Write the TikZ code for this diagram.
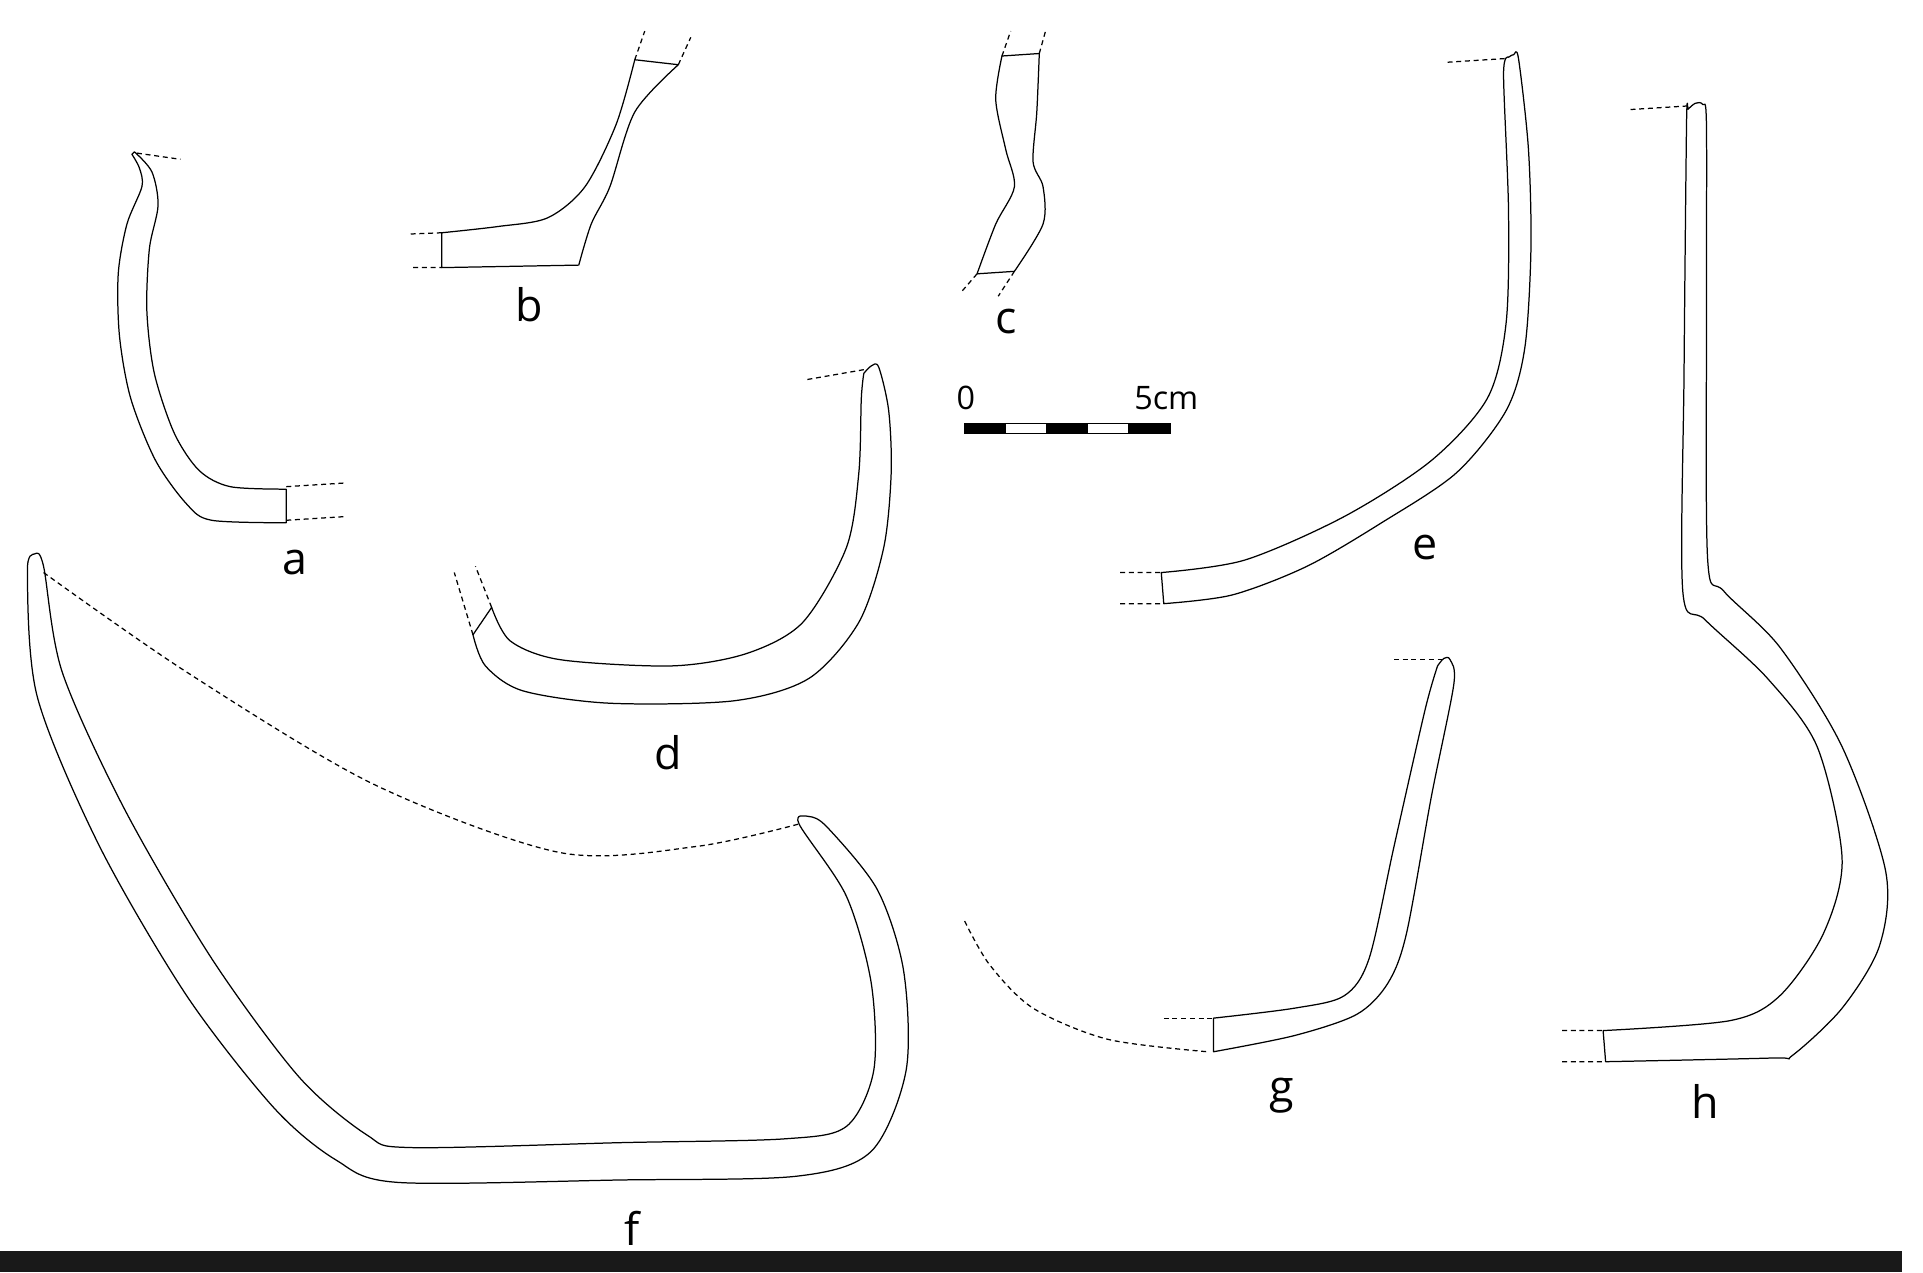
\documentclass[tikz,border=0pt]{standalone}
\usepackage{fontspec}
\setmainfont{Open Sans}
\begin{document}
\begin{tikzpicture}[x=1pt,y=-1pt,
  sherd/.style={draw=black,line width=1pt,line join=round},
  cut/.style={draw=black,line width=1pt,dashed,dash pattern=on 4pt off 3pt},
  lbl/.style={font=\fontsize{36}{40}\selectfont,inner sep=0pt}]
\useasboundingbox (0,0) rectangle (1545,1022);
\fill[white] (0,0) rectangle (1545,1022);
% a
\draw[sherd] plot[smooth] coordinates{(106,124)(112,135)(114,150)(102,180)(95,220)(96,270)(105,320)(125,370)(150,405)(170,418)(230,420)}
  -- plot[smooth] coordinates{(230,393)(185,391)(160,378)(140,348)(124,300)(118,250)(120,200)(127,165)(122,138)(108,122)} -- cycle;
\draw[cut] (230,391)--(278,388) (230,418)--(278,415) (110,123)--(145,128);
\node[lbl] (la) at (237,452) {a};
% b
\draw[sherd] (355,187)--(355,215)--(465,213) -- plot[smooth] coordinates{(465,213)(475,180)(490,150)(510,90)(545,52)}
  -- (510,48) -- plot[smooth] coordinates{(510,48)(495,100)(470,150)(440,175)(400,182)(355,187)};
\draw[cut] (330,188)--(355,187) (332,215)--(355,215) (510,48)--(518,25) (545,52)--(555,30);
\node[lbl] (lb) at (425,245) {b};
% c
\draw[sherd] plot[smooth] coordinates{(805,45)(800,80)(808,120)(815,150)(800,180)(785,220)}
  -- plot[smooth] coordinates{(815,218)(838,180)(838,150)(830,130)(833,90)(835,43)} -- cycle;
\draw[cut] (805,45)--(812,25) (835,43)--(840,25) (785,220)--(772,235) (815,218)--(802,238);
\node[lbl] (lc) at (808,258) {c};
% d
\draw[sherd] plot[smooth] coordinates{(694,300)(700,294)(706,295)(714,330)(716,380)(710,440)(690,500)(650,545)(590,563)(490,565)(420,555)(390,535)(380,510)}
  -- (395,488) -- plot[smooth] coordinates{(395,488)(410,515)(450,530)(540,535)(600,525)(645,500)(680,440)(690,380)(692,320)(694,300)};
\draw[cut] (380,510)--(365,460) (395,488)--(382,455) (694,297)--(648,305);
\node[lbl] (ld) at (537,605) {d};
% e
\draw[sherd] plot[smooth] coordinates{(1212,46)(1216,44)(1220,47)(1228,120)(1230,200)(1225,280)(1210,330)(1170,380)(1110,420)(1050,455)(990,478)(935,485)}
  -- (933,460) -- plot[smooth] coordinates{(933,460)(1000,450)(1080,415)(1150,370)(1195,320)(1210,260)(1212,170)(1208,60)(1212,46)};
\draw[cut] (900,460)--(933,460) (900,485)--(935,485) (1163,50)--(1210,47);
\node[lbl] (le) at (1145,440) {e};
% f
\draw[sherd] plot[smooth cycle] coordinates{(28,445)(22,460)(30,560)(80,680)(150,800)(220,890)(270,932)(320,950)(500,948)(640,945)(700,925)(728,860)(726,780)(705,715)(665,665)(650,656)(642,662)
  (680,720)(700,790)(702,860)(680,905)(630,915)(500,918)(330,922)(295,912)(240,865)(170,770)(100,650)(50,540)(35,455)};
\draw[cut] plot[smooth] coordinates{(35,460)(150,540)(300,630)(450,685)(560,680)(642,662)};
\node[lbl] (lf) at (508,987) {f};
% g
\draw[sherd] plot[smooth] coordinates{(1155,535)(1160,529)(1165,530)(1168,550)(1150,640)(1130,750)(1115,790)(1090,815)(1040,832)(975,845)}
  -- (975,818) -- plot[smooth] coordinates{(975,818)(1040,810)(1080,800)(1100,770)(1120,680)(1145,570)(1155,535)};
\draw[cut] (1120,530)--(1160,530) (935,818)--(975,818);
\draw[cut] plot[smooth] coordinates{(775,740)(795,775)(830,810)(890,835)(970,845)};
\node[lbl] (lg) at (1030,880) {g};
% h
\draw[sherd] plot[smooth] coordinates{(1356,88)(1362,83)(1368,84)(1371,100)(1371,260)(1372,450)(1385,475)(1430,520)(1480,600)(1515,700)(1510,760)(1480,810)(1440,848)(1425,850)(1290,853)}
  -- (1288,828) -- plot[smooth] coordinates{(1288,828)(1390,820)(1430,800)(1465,750)(1480,690)(1460,600)(1420,545)(1370,498)(1352,475)(1353,300)(1355,100)(1356,88)};
\draw[cut] (1310,88)--(1358,85) (1255,828)--(1288,828) (1255,853)--(1290,853);
\node[lbl] (lh) at (1370,885) {h};
% scale bar
\foreach \i in {0,...,4}{
  \pgfmathsetmacro{\xa}{775+33*\i}
  \pgfmathsetmacro{\xb}{775+33*(\i+1)}
  \ifodd\i \draw[fill=white,line width=1pt] (\xa,340) rectangle (\xb,348);
  \else \draw[fill=black,line width=1pt] (\xa,340) rectangle (\xb,348); \fi}
\node[font=\fontsize{26}{30}\selectfont,inner sep=0pt] (s0) at (776,320) {0};
\node[font=\fontsize{26}{30}\selectfont,inner sep=0pt] (s5) at (937,320) {5cm};
% bottom bar
\fill[black!90] (0,1005) rectangle (1528,1022);
\end{tikzpicture}
\end{document}
